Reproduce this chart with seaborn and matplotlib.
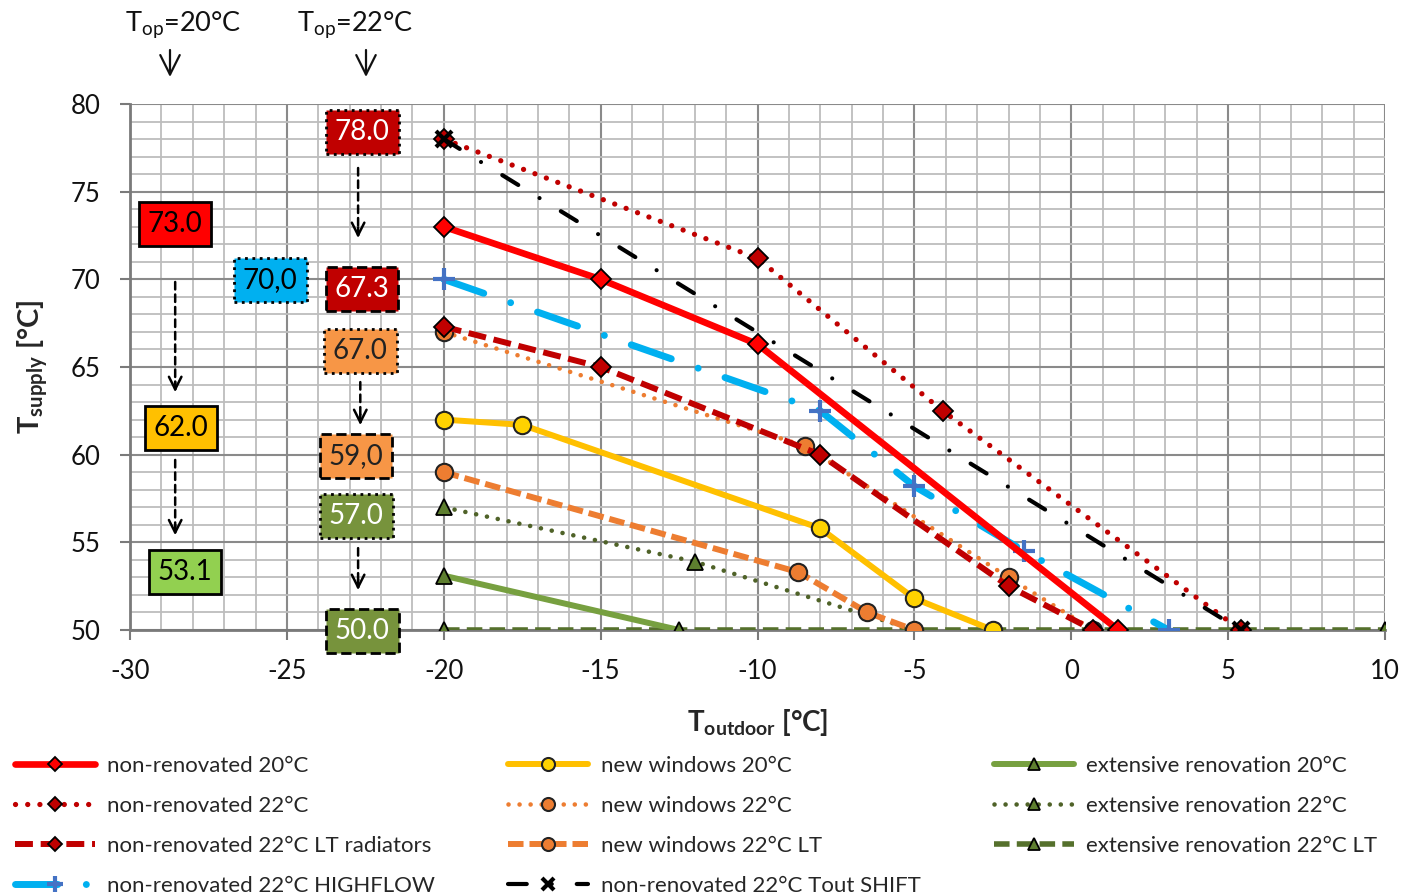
import matplotlib
matplotlib.use("Agg")
import matplotlib.pyplot as plt
import seaborn as sns
from matplotlib.ticker import MultipleLocator

# ---------------- data ----------------
nr20_x = [-20, -15, -10, 1.5]
nr20_y = [73.0, 70.0, 66.3, 50.0]
nr22_x = [-20, -10, -4.1, 5.4]
nr22_y = [78.0, 71.2, 62.5, 50.0]
nrlt_x = [-20, -15, -8, -2, 0.7]
nrlt_y = [67.3, 65.0, 60.0, 52.5, 50.0]
hf_x = [-20, -8, -5, -1.5, 3.1]
hf_y = [70.0, 62.5, 58.2, 54.5, 50.0]
shift_x = [-20, 5.4]
shift_y = [78.0, 50.0]
nw20_x = [-20, -17.5, -8, -5, -2.5]
nw20_y = [62.0, 61.7, 55.8, 51.8, 50.0]
nw22_x = [-20, -8.5, -2, 0.7]
nw22_y = [67.0, 60.5, 53.0, 50.0]
nwlt_x = [-20, -8.7, -6.5, -5]
nwlt_y = [59.0, 53.3, 51.0, 50.0]
er20_x = [-20, -12.5]
er20_y = [53.1, 50.0]
er22_x = [-20, -12, -5]
er22_y = [57.0, 53.9, 50.0]
erlt_x = [-20, 10]
erlt_y = [50.0, 50.0]

series_labels = [
    "non-renovated 20°C", "non-renovated 22°C", "non-renovated 22°C LT radiators",
    "non-renovated 22°C HIGHFLOW", "new windows 20°C", "new windows 22°C",
    "new windows 22°C LT", "non-renovated 22°C Tout SHIFT",
    "extensive renovation 20°C", "extensive renovation 22°C", "extensive renovation 22°C LT",
]

value_labels = ["73.0", "62.0", "53.1", "70,0", "78.0", "67.3", "67.0", "59,0", "57.0", "50.0"]
top_labels = ["T$_\\mathregular{op}$=20°C", "T$_\\mathregular{op}$=22°C"]
x_ticks = [-30, -25, -20, -15, -10, -5, 0, 5, 10]
y_ticks = [50, 55, 60, 65, 70, 75, 80]

# ---------------- style ----------------
sns.set_style("white")
plt.rcParams["font.family"] = ["Lato", "DejaVu Sans"]
plt.rcParams["mathtext.fontset"] = "custom"
plt.rcParams["mathtext.rm"] = "Lato"
plt.rcParams["mathtext.bf"] = "Lato:bold"
plt.rcParams["mathtext.it"] = "Lato:italic"
plt.rcParams["axes.unicode_minus"] = False

fig = plt.figure(figsize=(14.04, 8.96), dpi=100)
ax = fig.add_axes([130 / 1404, (896 - 630) / 896, 1255 / 1404, 526 / 896])

series_data = [
    (nr20_x, nr20_y), (nr22_x, nr22_y), (nrlt_x, nrlt_y), (hf_x, hf_y),
    (nw20_x, nw20_y), (nw22_x, nw22_y), (nwlt_x, nwlt_y), (shift_x, shift_y),
    (er20_x, er20_y), (er22_x, er22_y), (erlt_x, erlt_y),
]

styles = [
    dict(color="#FF0000", linewidth=4.8, linestyle="-", marker="D", markersize=10,
         markerfacecolor="#FF0000", markeredgecolor="black", markeredgewidth=1.3, zorder=6),
    dict(color="#C00000", linewidth=3.8, linestyle=(0, (0.01, 2.3)), dash_capstyle="round",
         marker="D", markersize=10, markerfacecolor="#C00000", markeredgecolor="black",
         markeredgewidth=1.3, zorder=5),
    dict(color="#C00000", linewidth=4.3, linestyle=(0, (3.0, 1.3)),
         marker="D", markersize=10, markerfacecolor="#C00000", markeredgecolor="black",
         markeredgewidth=1.3, zorder=5.2),
    dict(color="#00B0F0", linewidth=5.0, linestyle=(0, (6.1, 4.1, 0.001, 4.1)),
         dash_capstyle="round", marker="+", markersize=16, markeredgecolor="#4472C4",
         markeredgewidth=3, zorder=5.1),
    dict(color="#FFC000", linewidth=4.3, linestyle="-", marker="o", markersize=12.5,
         markerfacecolor="#FFD200", markeredgecolor="#222222", markeredgewidth=1.5, zorder=5.3),
    dict(color="#ED7D31", linewidth=3.3, linestyle=(0, (0.01, 2.4)), dash_capstyle="round",
         marker="o", markersize=12.5, markerfacecolor="#ED7D31", markeredgecolor="#222222",
         markeredgewidth=1.5, zorder=5.0),
    dict(color="#ED7D31", linewidth=4.3, linestyle=(0, (2.6, 1.0)),
         marker="o", markersize=12.5, markerfacecolor="#ED7D31", markeredgecolor="#222222",
         markeredgewidth=1.5, zorder=5.0),
    dict(color="black", linewidth=3.0, linestyle=(0, (4.5, 6, 0.001, 6)),
         dash_capstyle="round", marker="x", markersize=11, markeredgecolor="black",
         markeredgewidth=3, zorder=5.4),
    dict(color="#77A040", linewidth=4.3, linestyle="-", marker="^", markersize=12,
         markerfacecolor="#5E7F2F", markeredgecolor="black", markeredgewidth=1.3, zorder=4.8),
    dict(color="#4F6228", linewidth=3.3, linestyle=(0, (0.01, 2.4)), dash_capstyle="round",
         marker="^", markersize=12, markerfacecolor="#5E7F2F", markeredgecolor="black",
         markeredgewidth=1.3, zorder=4.7),
    dict(color="#55702C", linewidth=4.0, linestyle=(0, (2.8, 1.3)),
         marker="^", markersize=12, markerfacecolor="#5E7F2F", markeredgecolor="black",
         markeredgewidth=1.3, zorder=4.6),
]

for (xs, ys), lab, st in zip(series_data, series_labels, styles):
    sns.lineplot(x=xs, y=ys, ax=ax, label=lab, sort=False, estimator=None, **st)

if ax.get_legend() is not None:
    ax.get_legend().remove()

# ---------------- axes ----------------
ax.set_xlim(-30, 10)
ax.set_ylim(50, 80)
ax.set_xticks(x_ticks)
ax.set_yticks(y_ticks)
ax.xaxis.set_minor_locator(MultipleLocator(1))
ax.yaxis.set_minor_locator(MultipleLocator(1))
ax.grid(which="major", color="#8a8a8a", linewidth=1.5, zorder=0)
ax.grid(which="minor", color="#bdbdbd", linewidth=1.3, zorder=0)
ax.set_axisbelow(True)
for side in ["top", "right"]:
    ax.spines[side].set_visible(False)
for side in ["left", "bottom"]:
    ax.spines[side].set_color("#7a7a7a")
    ax.spines[side].set_linewidth(2)
ax.tick_params(axis="both", which="major", direction="out", length=7, width=1.5,
               color="#7a7a7a", labelsize=18.5, labelcolor="#111111")
ax.tick_params(axis="x", which="major", pad=14, bottom=True)
ax.tick_params(axis="y", which="major", pad=14, left=True)
ax.tick_params(axis="both", which="minor", length=0)

ax.set_xlabel("T$_\\mathbf{outdoor}$ [°C]", fontsize=20, fontweight="bold")
ax.xaxis.set_label_coords(0.5, -0.146)
ax.set_ylabel("T$_\\mathbf{supply}$ [°C]", fontsize=21, fontweight="bold")
ax.yaxis.set_label_coords(-0.064, 0.5)

# ---------------- value boxes ----------------
box_pos = [(-28.56, 73.15), (-28.37, 61.52), (-28.25, 53.30), (-25.53, 69.96),
           (-22.60, 78.40), (-22.60, 69.45), (-22.66, 65.91), (-22.79, 59.92),
           (-22.79, 56.50), (-22.60, 49.94)]
box_fc = ["#FF0000", "#FFC000", "#92D050", "#00B0F0", "#C00000", "#C00000",
          "#F79646", "#F79646", "#77933C", "#77933C"]
box_tc = ["black", "black", "black", "black", "white", "white",
          "#222222", "#222222", "white", "white"]
box_ls = ["-", "-", "-", ":", ":", "--", ":", "--", ":", "--"]
for txt, (bx, by), fc, tc, ls in zip(value_labels, box_pos, box_fc, box_tc, box_ls):
    ax.text(bx, by, txt, ha="center", va="center", fontsize=20, color=tc, zorder=8,
            clip_on=False,
            bbox=dict(boxstyle="square,pad=0.32", fc=fc, ec="black", lw=2.0, ls=ls))

# dashed arrows between boxes
arrows = [(-28.56, 69.85, 63.57), (-28.56, 59.7, 55.4), (-22.73, 76.35, 72.36),
          (-22.66, 64.14, 61.69), (-22.73, 54.67, 52.28)]
for axx, y0, y1 in arrows:
    ax.annotate("", xy=(axx, y1 + 0.15), xytext=(axx, y0),
                arrowprops=dict(arrowstyle="-", lw=1.8, ls=(0, (3, 2)), color="black",
                                shrinkA=0, shrinkB=0), zorder=7)
    ax.annotate("", xy=(axx, y1), xytext=(axx, y1 + 0.6),
                arrowprops=dict(arrowstyle="->,head_length=0.9,head_width=0.45", lw=1.8,
                                color="black", shrinkA=0, shrinkB=0), zorder=7)

# top labels
for txt, (tx, arx) in zip(top_labels, [(183, 170), (355, 366)]):
    fig.text(tx / 1404, 1 - 25 / 896, txt, ha="center", va="center", fontsize=19.5, color="#111111")
    fig.add_artist(matplotlib.patches.FancyArrowPatch(
        (arx / 1404, 1 - 50 / 896), (arx / 1404, 1 - 77 / 896), transform=fig.transFigure,
        arrowstyle="->,head_length=0.7,head_width=0.35", lw=1.6, color="#111111",
        mutation_scale=20, shrinkA=0, shrinkB=0))

# ---------------- legend ----------------
handles, labels = ax.get_legend_handles_labels()
fig.legend(handles, labels, loc="upper left", bbox_to_anchor=(15 / 1404, 1 - 756 / 896),
           ncol=3, frameon=False, fontsize=16, handlelength=3.6, handletextpad=0.55,
           columnspacing=3.3, labelspacing=0.9, borderpad=0, borderaxespad=0,
           numpoints=1, markerscale=0.75)

fig.savefig("out.png", dpi=100)
